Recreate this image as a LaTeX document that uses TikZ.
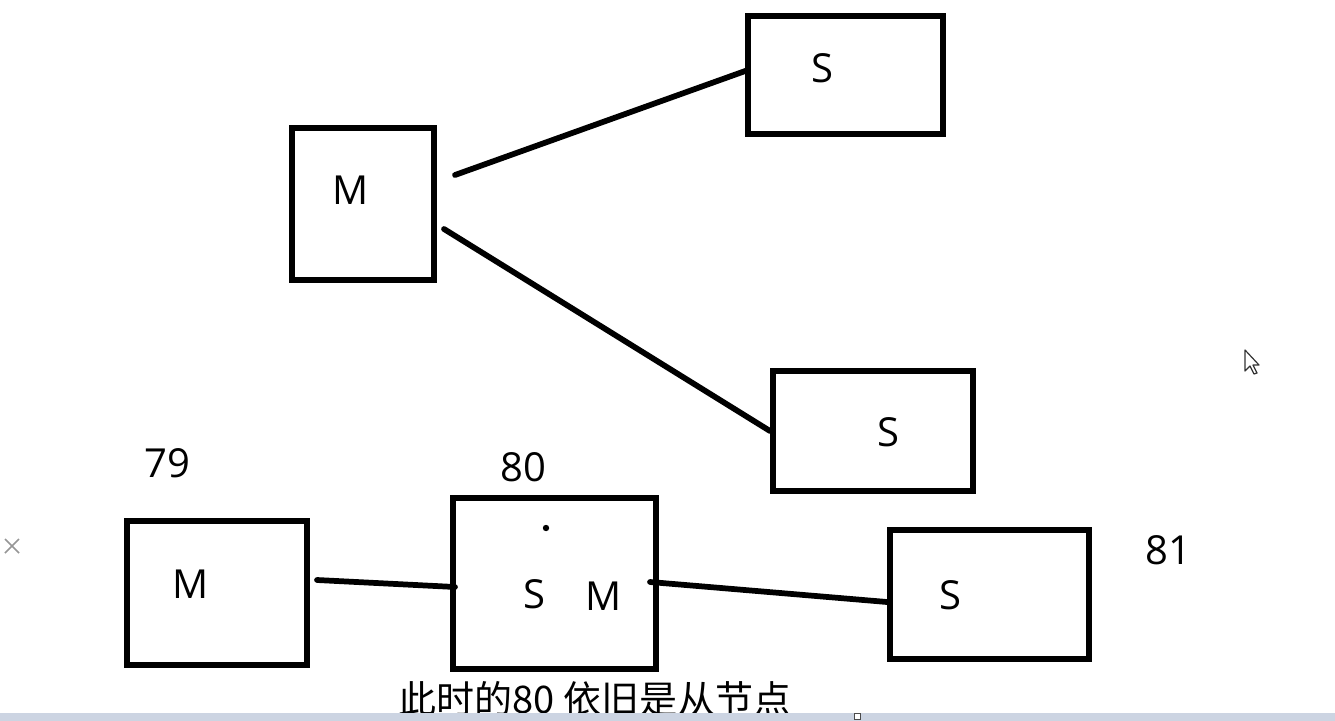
\documentclass[tikz,border=0pt]{standalone}
\usepackage{fontspec}
\setmainfont{Open Sans}
\newfontfamily\cjk{Noto Sans CJK SC}
\usetikzlibrary{calc}

\definecolor{barblue}{RGB}{204,212,226}
\definecolor{iconGray}{RGB}{150,150,150}

\tikzset{
  box/.style={draw=black, line width=4.8pt, inner sep=0pt, fill=white},
  link/.style={draw=black, line width=4.3pt, line cap=round},
  lbl/.style={font=\fontsize{30}{36}\selectfont, inner sep=0pt, text depth=0pt},
  note/.style={font=\cjk\fontsize{28.5}{34}\selectfont, inner sep=0pt},
}

\begin{document}
\begin{tikzpicture}[x=0.75pt, y=-0.75pt]
  \useasboundingbox (0,0) rectangle (1335,721);
  \fill[white] (0,0) rectangle (1335,721);

  % upper group: one master, two slaves
  \node[box, minimum width=141.5*0.75pt, minimum height=151.5*0.75pt] (mtop) at (363,204) {};
  \node[box, minimum width=194.5*0.75pt, minimum height=117.5*0.75pt] (s1) at (845.5,75) {};
  \node[box, minimum width=199.5*0.75pt, minimum height=119.5*0.75pt] (s2) at (873,431) {};

  \node[lbl] (mtopL) at (351,190) {M};
  \node[lbl] (s1L) at (822,68) {S};
  \node[lbl] (s2L) at (888,432) {S};

  \draw[link] ($(mtop.center)+(92,-29)$) -- ($(s1.center)+(-97.5,-5)$);
  \draw[link] ($(mtop.center)+(81,25)$) -- ($(s2.center)+(-103,0)$);

  % lower chain 79 -> 80 -> 81
  \node[box, minimum width=179.5*0.75pt, minimum height=143.5*0.75pt] (mbot) at (217,593) {};
  \node[box, minimum width=202.5*0.75pt, minimum height=170.5*0.75pt] (mid) at (554.5,583.5) {};
  \node[box, minimum width=198.5*0.75pt, minimum height=128.5*0.75pt] (s3) at (989.5,594.5) {};

  \node[lbl] (mbotL) at (191,584) {M};
  \node[lbl] (midS) at (534,594) {S};
  \node[lbl] (midM) at (604,596) {M};
  \node[lbl] (s3L) at (950,595) {S};
  \fill (546,528) circle (3.2);

  \node[lbl] (n79) at (167,463) {79};
  \node[lbl] (n80) at (523,467) {80};
  \node[lbl] (n81) at (1168,550) {81};

  \draw[link] ($(mbot.center)+(100,-13)$) -- ($(mid.center)+(-99.5,3.5)$);
  \draw[link] ($(mid.center)+(95.5,-1.5)$) -- ($(s3.center)+(-102.5,7.5)$);

  % caption
  \node[note] (cap) at (595,699) {此时的80 依旧是从节点};

  % window strip along the bottom edge
  \fill[barblue] (0,713) rectangle (1335,721);
  \draw[black!70, fill=white, line width=0.75pt] (854,713.5) rectangle (860,719);

  % close mark at the left edge
  \draw[iconGray, line width=1.2pt] (5,539) -- (19,553) (19,539) -- (5,553);

  % mouse pointer
  \draw[black!80, fill=white, line width=0.9pt, line join=round]
    (1245,350) -- (1245,371) -- (1250,366) -- (1254,374) -- (1257,373)
    -- (1253,365) -- (1259,365) -- cycle;
\end{tikzpicture}
\end{document}
